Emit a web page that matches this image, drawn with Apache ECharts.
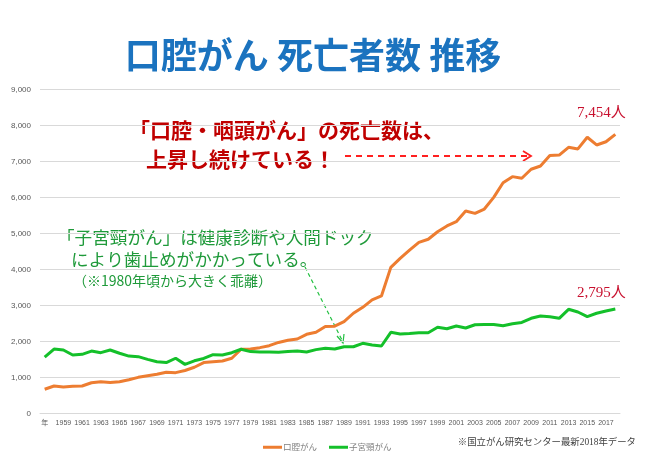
<!DOCTYPE html>
<html>
<head>
<meta charset="utf-8">
<script src="https://cdn.jsdelivr.net/npm/echarts@6/dist/echarts.min.js"></script>
<style>
html,body{margin:0;padding:0;background:#fff;}
#c{width:650px;height:461px;}
</style>
</head>
<body>
<div id="c"></div>
<script>
const categories = ["年","1958","1959","1960","1961","1962","1963","1964","1965","1966","1967","1968","1969","1970","1971","1972","1973","1974","1975","1976","1977","1978","1979","1980","1981","1982","1983","1984","1985","1986","1987","1988","1989","1990","1991","1992","1993","1994","1995","1996","1997","1998","1999","2000","2001","2002","2003","2004","2005","2006","2007","2008","2009","2010","2011","2012","2013","2014","2015","2016","2017","2018"];

const oralCancer = [680,770,740,760,770,860,890,870,890,945,1010,1055,1095,1150,1140,1200,
  1290,1420,1445,1465,1540,1790,1800,1835,1890,1980,2040,2075,2205,2260,2420,2430,
  2555,2790,2955,3160,3270,4065,4315,4545,4760,4845,5055,5215,5335,5630,5565,
  5685,6010,6415,6585,6540,6790,6880,7170,7185,7400,7355,7680,7465,7555,7760];

const cervicalCancer = [1570,1797,1770,1630,1650,1740,1695,1770,1680,1600,1585,1510,1445,1420,1540,1370,
  1470,1535,1640,1630,1695,1790,1725,1715,1715,1705,1730,1740,1715,1780,1815,1795,
  1860,1860,1955,1910,1880,2260,2215,2230,2250,2250,2400,2360,2435,2380,2470,
  2480,2480,2445,2500,2535,2650,2715,2695,2650,2900,2825,2695,2790,2855,2910];

const yTicks = {min:0, max:9000, interval:1000};
const seriesNames = ["口腔がん","子宮頸がん"];

const chart = echarts.init(document.getElementById('c'), null, {renderer:'canvas'});
const cjk = '"Noto Sans CJK JP", "Noto Sans", sans-serif';
const serif = '"Liberation Serif", "Noto Sans CJK JP", serif';

function arrowDash(x1,y1,x2,y2,color,w){
  return {type:'line', shape:{x1:x1,y1:y1,x2:x2,y2:y2}, style:{stroke:color, lineWidth:w, lineDash:[6,5]}, silent:true};
}

chart.setOption({
  animation:false,
  backgroundColor:'#ffffff',
  title:{
    text:'口腔がん 死亡者数 推移',
    left:308, top:32, textAlign:'center',
    textStyle:{fontFamily:cjk, fontSize:36, fontWeight:'bold', color:'#1b73bf'}
  },
  grid:{left:40, right:30, top:89.7, bottom:47.3, containLabel:false},
  legend:{
    left:258, top:438,
    itemWidth:19, itemHeight:3, itemGap:12,
    icon:'rect',
    textStyle:{fontFamily:cjk, fontSize:8.5, color:'#7f7f7f', padding:[0,0,0,-4]},
    data:seriesNames
  },
  xAxis:{
    type:'category',
    data:categories,
    boundaryGap:true,
    axisLine:{lineStyle:{color:'#d9d9d9', width:1}},
    axisTick:{show:false},
    axisLabel:{interval:1, fontSize:7, color:'#595959', margin:6, fontFamily:'"Liberation Sans", "Noto Sans CJK JP", sans-serif'}
  },
  yAxis:{
    type:'value',
    min:yTicks.min, max:yTicks.max, interval:yTicks.interval,
    axisLine:{show:false},
    axisTick:{show:false},
    splitLine:{lineStyle:{color:'#d9d9d9', width:1}},
    axisLabel:{fontSize:8, color:'#595959', margin:9, fontFamily:'"Liberation Sans", sans-serif',
      formatter:function(v){return v.toLocaleString('en-US');}}
  },
  series:[
    {name:seriesNames[0], type:'line', data:oralCancer, symbol:'none', smooth:false,
     lineStyle:{color:'#ed7d31', width:3}, itemStyle:{color:'#ed7d31'}},
    {name:seriesNames[1], type:'line', data:cervicalCancer, symbol:'none', smooth:false,
     lineStyle:{color:'#14c02a', width:3}, itemStyle:{color:'#14c02a'}}
  ],
  graphic:[
    {type:'text', left:129, top:120, style:{text:'「口腔・咽頭がん」の死亡数は、', fontFamily:cjk, fontSize:21, fontWeight:'bold', fill:'#c00000'}},
    {type:'text', left:146, top:149, style:{text:'上昇し続けている！', fontFamily:cjk, fontSize:21, fontWeight:'bold', fill:'#c00000'}},
    arrowDash(345,156,528,156,'#ff2020',1.8),
    {type:'polyline', shape:{points:[[523,151],[531,156],[523,161]]}, style:{stroke:'#ff2020', lineWidth:1.8, fill:null}},
    {type:'text', left:57, top:229, style:{text:'「子宮頸がん」は健康診断や人間ドック', fontFamily:cjk, fontSize:17.6, fill:'#1f9a3a'}},
    {type:'text', left:71, top:251, style:{text:'により歯止めがかかっている。', fontFamily:cjk, fontSize:17.6, fill:'#1f9a3a'}},
    {type:'text', left:73, top:274, style:{text:'（※1980年頃から大きく乖離）', fontFamily:cjk, fontSize:14, fill:'#1f9a3a'}},
    {type:'line', shape:{x1:305,y1:267,x2:342,y2:340}, style:{stroke:'#22c040', lineWidth:1.2, lineDash:[4,3]}},
    {type:'polyline', shape:{points:[[337,336],[343,343],[344,334]]}, style:{stroke:'#22c040', lineWidth:1.2, fill:null}},
    {type:'text', left:577, top:106, style:{text:'7,454人', fontFamily:serif, fontSize:15, fill:'#c8102e'}},
    {type:'text', left:577, top:286, style:{text:'2,795人', fontFamily:serif, fontSize:15, fill:'#c8102e'}},
    {type:'text', x:636, y:438, style:{text:'※国立がん研究センター最新2018年データ', fontFamily:serif, fontSize:9.4, fill:'#404040', align:'right'}}
  ]
});
</script>
</body>
</html>
